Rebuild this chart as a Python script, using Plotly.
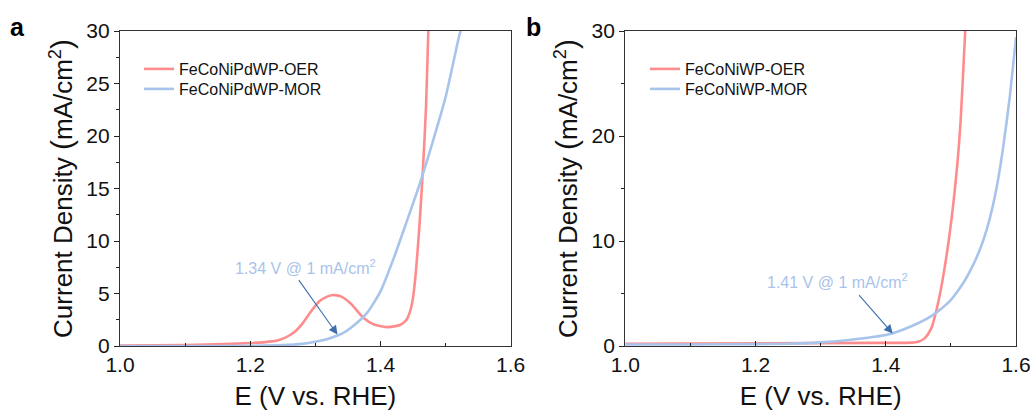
import plotly.graph_objects as go

# ---- Panel a data (FeCoNiPdWP) ----
a_oer_v = [1.0, 1.1, 1.2, 1.23, 1.2457, 1.26, 1.271, 1.281, 1.291, 1.307, 1.32, 1.33, 1.34, 1.355,
           1.3737, 1.39, 1.412, 1.43, 1.44, 1.445, 1.45, 1.455, 1.46, 1.465, 1.47, 1.4735]
a_oer_j = [0.05, 0.1, 0.28, 0.42, 0.6, 1.0, 1.5, 2.2, 3.1, 4.3, 4.75, 4.85, 4.7, 4.0,
           2.7, 2.05, 1.8, 2.0, 2.5, 3.2, 4.6, 7.5, 11.6, 16.6, 22.8, 30.0]
a_mor_v = [1.0, 1.1, 1.2, 1.25, 1.28, 1.30, 1.32, 1.34, 1.36, 1.38, 1.40, 1.42, 1.44,
           1.46, 1.48, 1.50, 1.52, 1.523]
a_mor_j = [0.0, 0.0, 0.02, 0.08, 0.2, 0.4, 0.7, 1.15, 2.0, 3.2, 5.2, 8.3, 11.8,
           15.4, 19.4, 23.7, 29.3, 30.0]

# ---- Panel b data (FeCoNiWP) ----
b_oer_v = [1.0, 1.2, 1.4, 1.44, 1.45, 1.46, 1.47, 1.48, 1.49, 1.50, 1.51, 1.515, 1.52, 1.522]
b_oer_j = [0.22, 0.25, 0.3, 0.32, 0.4, 0.75, 1.7, 4.0, 7.3, 11.6, 17.4, 21.5, 27.5, 30.0]
b_mor_v = [1.0, 1.1, 1.2, 1.25, 1.30, 1.34, 1.38, 1.41, 1.44, 1.47, 1.48, 1.49, 1.50, 1.51,
           1.52, 1.53, 1.54, 1.55, 1.56, 1.57, 1.58, 1.59, 1.60]
b_mor_j = [0.15, 0.15, 0.18, 0.22, 0.35, 0.55, 0.85, 1.2, 1.9, 2.85, 3.3, 3.8, 4.4, 5.2,
           6.1, 7.2, 8.5, 10.1, 12.2, 15.0, 18.8, 23.5, 29.4]

names_a = ["FeCoNiPdWP-OER", "FeCoNiPdWP-MOR"]
names_b = ["FeCoNiWP-OER", "FeCoNiWP-MOR"]
ann_a = {"text": "1.34 V @ 1 mA/cm<sup>2</sup>", "tip": (1.334, 1.09), "tail": (1.273, 6.42)}
ann_b = {"text": "1.41 V @ 1 mA/cm<sup>2</sup>", "tip": (1.4107, 1.18), "tail": (1.357, 4.99)}

RED = "#FF8C8C"
BLUE = "#A9C4EB"
ANN = "#A9C3EA"
ARROW = "#3D6FAE"
FONT = "Liberation Sans, Arial, sans-serif"
W, H = 1036, 413
ML, MR, MT, MB = 120, 20, 31, 67
PW, PH = W - ML - MR, H - MT - MB


def px(x):
    return (x - ML) / PW


def py(y):
    return (H - MB - y) / PH


fig = go.Figure()
line_kw = dict(shape="spline", smoothing=0.6, width=2.6)
traces = [
    (a_oer_v, a_oer_j, names_a[0], RED, "x", "y", "legend"),
    (a_mor_v, a_mor_j, names_a[1], BLUE, "x", "y", "legend2"),
    (b_oer_v, b_oer_j, names_b[0], RED, "x2", "y2", "legend3"),
    (b_mor_v, b_mor_j, names_b[1], BLUE, "x2", "y2", "legend4"),
]
for xv, yv, nm, col, xa, ya, lg in traces:
    fig.add_trace(go.Scatter(x=xv, y=yv, name=nm, mode="lines", line=dict(color=col, **line_kw),
                             xaxis=xa, yaxis=ya, legend=lg))

xcommon = dict(range=[1.0, 1.6], dtick=0.2, tick0=1.0, tickformat=".1f", ticks="inside",
               ticklen=5, tickwidth=1.2, tickcolor="#222", showline=True, linecolor="#333",
               linewidth=1.3, mirror=True, showgrid=False, zeroline=False, automargin=False,
               tickfont=dict(family=FONT, size=21, color="#111"),
               minor=dict(dtick=0.1, ticks="inside", ticklen=3, tickcolor="#222", showgrid=False),
               title=dict(text="E (V vs. RHE)", font=dict(family=FONT, size=26, color="#111"),
                          standoff=11))
ycommon = dict(range=[0, 30], ticks="outside", ticklen=5, tickwidth=1.2, tickcolor="#222",
               showline=True, linecolor="#333", linewidth=1.3, mirror=True, showgrid=False,
               zeroline=False, automargin=False, tickfont=dict(family=FONT, size=21, color="#111"),
               title=dict(text="Current Density <span style='font-size:30px'>(</span>mA/cm<sup>2</sup><span style='font-size:30px'>)</span>",
                          font=dict(family=FONT, size=26, color="#111"), standoff=6))


def leg(xp, yp):
    return dict(x=px(xp), y=py(yp), xanchor="left", yanchor="top", bgcolor="rgba(0,0,0,0)",
                font=dict(family=FONT, size=16, color="#111"), itemwidth=30)


fig.update_layout(
    width=W, height=H, margin=dict(l=ML, r=MR, t=MT, b=MB, autoexpand=False),
    paper_bgcolor="white", plot_bgcolor="white",
    font=dict(family=FONT, color="#111"),
    xaxis=dict(domain=[px(120), px(510.7)], anchor="y", **xcommon),
    yaxis=dict(domain=[0, 1], anchor="x", dtick=5,
               minor=dict(dtick=2.5, ticks="outside", ticklen=3, tickcolor="#222", showgrid=False),
               **ycommon),
    xaxis2=dict(domain=[px(625.3), 1], anchor="y2", **xcommon),
    yaxis2=dict(domain=[0, 1], anchor="x2", dtick=10,
                minor=dict(dtick=5, ticks="outside", ticklen=3, tickcolor="#222", showgrid=False),
                **ycommon),
    legend=leg(139, 52),
    legend2=leg(139, 72),
    legend3=leg(645, 52),
    legend4=leg(645, 72),
    showlegend=True,
)

for ann, xr, yr in [(ann_a, "x", "y"), (ann_b, "x2", "y2")]:
    fig.add_annotation(x=ann["tip"][0], y=ann["tip"][1], ax=ann["tail"][0], ay=ann["tail"][1],
                       xref=xr, yref=yr, axref=xr, ayref=yr, text="", showarrow=True,
                       arrowhead=2, arrowsize=1.6, arrowwidth=1.1, arrowcolor=ARROW, standoff=0)

fig.add_annotation(x=px(305), y=py(267), xref="paper", yref="paper", text=ann_a["text"],
                   xanchor="center", yanchor="middle",
                   showarrow=False, font=dict(family=FONT, size=16, color=ANN))
fig.add_annotation(x=px(837), y=py(281), xref="paper", yref="paper", text=ann_b["text"],
                   xanchor="center", yanchor="middle",
                   showarrow=False, font=dict(family=FONT, size=16, color=ANN))

fig.add_annotation(x=px(17), y=py(27), xref="paper", yref="paper", text="<b>a</b>",
                   xanchor="center", yanchor="middle",
                   showarrow=False, font=dict(family=FONT, size=25, color="#000"))
fig.add_annotation(x=px(533), y=py(27), xref="paper", yref="paper", text="<b>b</b>",
                   xanchor="center", yanchor="middle",
                   showarrow=False, font=dict(family=FONT, size=25, color="#000"))

fig.write_html("out.html", config={"displayModeBar": False},
               post_script="document.body.style.margin='0px';")
